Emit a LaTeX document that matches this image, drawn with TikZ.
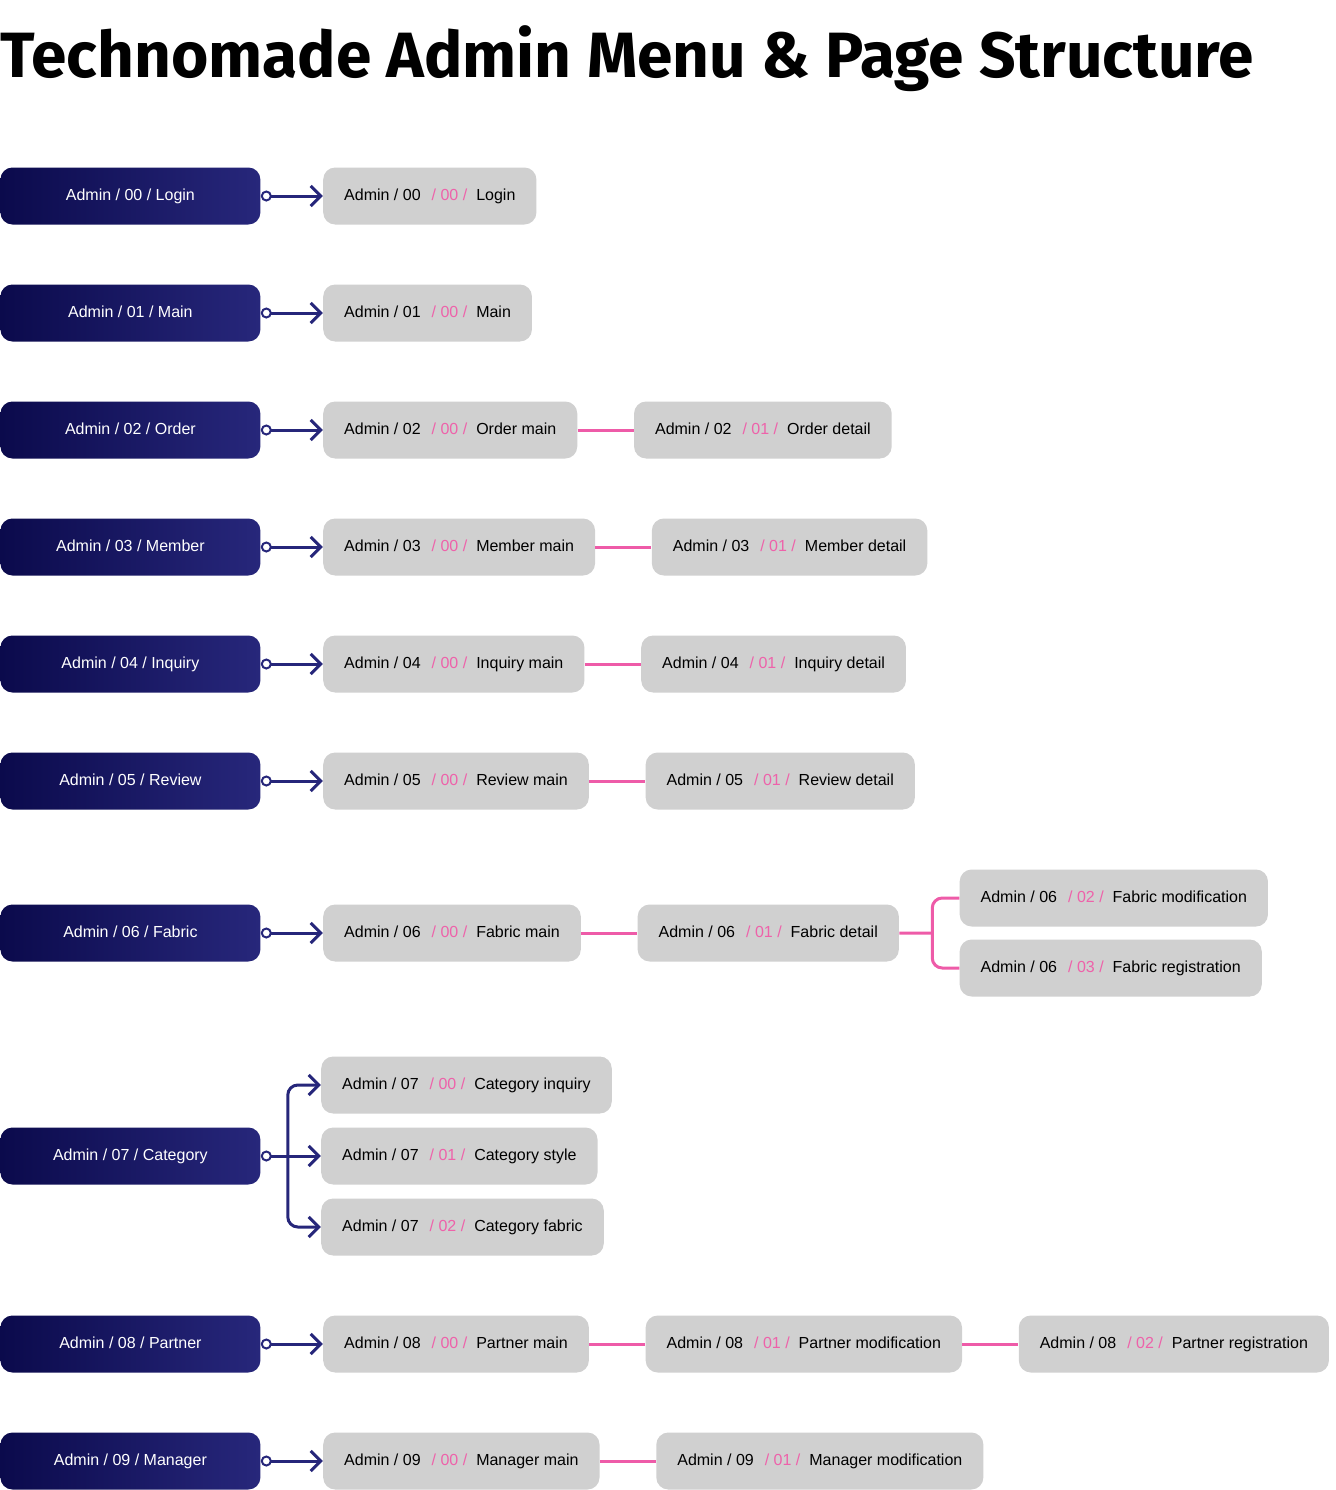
\documentclass[tikz,border=0pt]{standalone}
\usepackage{fontspec}
\setmainfont{Liberation Sans}
\newfontfamily\titlefont{Fira Sans}
\usetikzlibrary{positioning, arrows.meta, calc}

\definecolor{navyleft}{HTML}{0B0A4C}
\definecolor{navyright}{HTML}{27277B}
\definecolor{navyline}{HTML}{26267A}
\definecolor{pagegray}{HTML}{D0D0D0}
\definecolor{pinkline}{HTML}{EE5BA8}
\definecolor{pinktext}{HTML}{EE62AA}

\newcommand{\pagelabel}[3]{Admin / #1\hspace{5.5pt}{\color{pinktext}/ #2 /}\hspace{4.5pt}#3}

\tikzset{
  menu/.style={rounded corners=6pt, left color=navyleft, right color=navyright, text=white,
    minimum width=130pt, minimum height=28.5pt, inner sep=0pt, anchor=west,
    text height=6pt, text depth=1.5pt, font=\fontsize{8}{10}\selectfont},
  page/.style={rounded corners=6pt, fill=pagegray, minimum height=28.5pt,
    inner xsep=10.5pt, inner ysep=0pt, text height=6pt, text depth=1.5pt,
    font=\fontsize{8}{10}\selectfont},
  menulink/.style={draw=navyline, line width=1.5pt,
    {Circle[fill=white, line width=1pt, length=5.5pt]}-{Straight Barb[length=5pt, width=10pt]}},
  sublink/.style={draw=navyline, line width=1.5pt, rounded corners=5pt,
    -{Straight Barb[length=5pt, width=10pt]}},
  pagelink/.style={draw=pinkline, line width=1.5pt},
}

\begin{document}
\begin{tikzpicture}[x=0.5pt, y=-0.5pt]
        \useasboundingbox (0,0) rectangle (1336,1490);
        \node[anchor=base west, inner sep=0pt, font=\titlefont\bfseries\fontsize{32}{38}\selectfont] (title) at (0,77) {Technomade Admin Menu \& Page Structure};
        % 00 login
        \node[menu] (m0) at (0,196) {Admin / 00 / Login};
        \node[page, right=31pt of m0] (p00) {\pagelabel{00}{00}{Login}};
        \draw[menulink] (m0.east) -- (p00.west);
        % 01 main
        \node[menu] (m1) at (0,313) {Admin / 01 / Main};
        \node[page, right=31pt of m1] (p10) {\pagelabel{01}{00}{Main}};
        \draw[menulink] (m1.east) -- (p10.west);
        % 02 order
        \node[menu] (m2) at (0,430) {Admin / 02 / Order};
        \node[page, right=31pt of m2] (p20) {\pagelabel{02}{00}{Order main}};
        \node[page, right=28pt of p20] (p21) {\pagelabel{02}{01}{Order detail}};
        \draw[menulink] (m2.east) -- (p20.west);
        \draw[pagelink] (p20.east) -- (p21.west);
        % 03 member
        \node[menu] (m3) at (0,547) {Admin / 03 / Member};
        \node[page, right=31pt of m3] (p30) {\pagelabel{03}{00}{Member main}};
        \node[page, right=28pt of p30] (p31) {\pagelabel{03}{01}{Member detail}};
        \draw[menulink] (m3.east) -- (p30.west);
        \draw[pagelink] (p30.east) -- (p31.west);
        % 04 inquiry
        \node[menu] (m4) at (0,664) {Admin / 04 / Inquiry};
        \node[page, right=31pt of m4] (p40) {\pagelabel{04}{00}{Inquiry main}};
        \node[page, right=28pt of p40] (p41) {\pagelabel{04}{01}{Inquiry detail}};
        \draw[menulink] (m4.east) -- (p40.west);
        \draw[pagelink] (p40.east) -- (p41.west);
        % 05 review
        \node[menu] (m5) at (0,781) {Admin / 05 / Review};
        \node[page, right=31pt of m5] (p50) {\pagelabel{05}{00}{Review main}};
        \node[page, right=28pt of p50] (p51) {\pagelabel{05}{01}{Review detail}};
        \draw[menulink] (m5.east) -- (p50.west);
        \draw[pagelink] (p50.east) -- (p51.west);
        % 06 fabric
        \node[menu] (m6) at (0,933) {Admin / 06 / Fabric};
        \node[page, right=31pt of m6] (p60) {\pagelabel{06}{00}{Fabric main}};
        \node[page, right=28pt of p60] (p61) {\pagelabel{06}{01}{Fabric detail}};
        \node[page, anchor=west] (p62) at ([xshift=30pt, yshift=17.5pt]p61.east) {\pagelabel{06}{02}{Fabric modification}};
        \node[page, anchor=west] (p63) at ([xshift=30pt, yshift=-17.5pt]p61.east) {\pagelabel{06}{03}{Fabric registration}};
        \coordinate (fj) at ($(p61.east)!0.55!(p61.east -| p62.west)$);
        \draw[menulink] (m6.east) -- (p60.west);
        \draw[pagelink] (p60.east) -- (p61.west);
        \draw[pagelink] (p61.east) -- (fj);
        \draw[pagelink, rounded corners=5pt] (p62.west) -| (fj) |- (p63.west);
        % 07 category
        \node[menu] (m7) at (0,1156) {Admin / 07 / Category};
        \node[page, right=30pt of m7] (p71) {\pagelabel{07}{01}{Category style}};
        \node[page, anchor=west] (p70) at ([yshift=35.5pt]p71.west) {\pagelabel{07}{00}{Category inquiry}};
        \node[page, anchor=west] (p72) at ([yshift=-35.5pt]p71.west) {\pagelabel{07}{02}{Category fabric}};
        \coordinate (cj) at ([xshift=13.5pt]m7.east);
        \draw[menulink] (m7.east) -- (p71.west);
        \draw[sublink] (cj) |- (p70.west);
        \draw[sublink] (cj) |- (p72.west);
        % 08 partner
        \node[menu] (m8) at (0,1344) {Admin / 08 / Partner};
        \node[page, right=31pt of m8] (p80) {\pagelabel{08}{00}{Partner main}};
        \node[page, right=28pt of p80] (p81) {\pagelabel{08}{01}{Partner modification}};
        \node[page, right=28pt of p81] (p82) {\pagelabel{08}{02}{Partner registration}};
        \draw[menulink] (m8.east) -- (p80.west);
        \draw[pagelink] (p80.east) -- (p81.west);
        \draw[pagelink] (p81.east) -- (p82.west);
        % 09 manager
        \node[menu] (m9) at (0,1461) {Admin / 09 / Manager};
        \node[page, right=31pt of m9] (p90) {\pagelabel{09}{00}{Manager main}};
        \node[page, right=28pt of p90] (p91) {\pagelabel{09}{01}{Manager modification}};
        \draw[menulink] (m9.east) -- (p90.west);
        \draw[pagelink] (p90.east) -- (p91.west);
\end{tikzpicture}
\end{document}
